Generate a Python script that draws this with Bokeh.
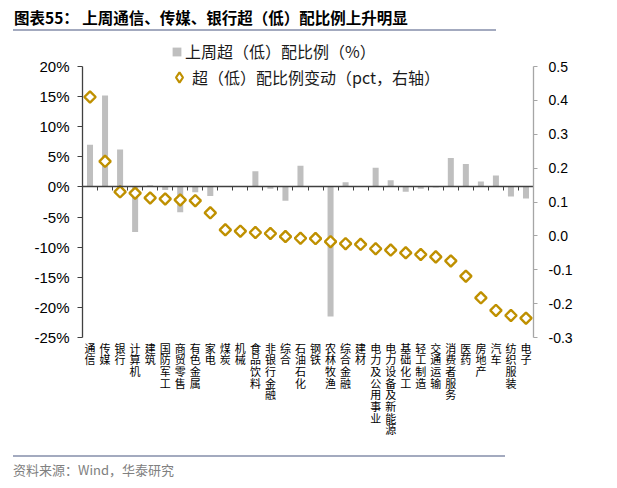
from bokeh.plotting import figure
from bokeh.models import (ColumnDataSource, Range1d, LinearAxis, FixedTicker,
                          PrintfTickFormatter, Legend, LegendItem, Div)
from bokeh.layouts import column
from bokeh.embed import file_html
from bokeh.resources import INLINE

categories = ["通信", "传媒", "银行", "计算机", "建筑", "国防军工", "商贸零售", "有色金属",
              "家电", "煤炭", "机械", "食品饮料", "非银行金融", "综合", "石油石化", "钢铁",
              "农林牧渔", "综合金融", "建材", "电力及公用事业", "电力设备及新能源", "基础化工",
              "轻工制造", "交通运输", "消费者服务", "医药", "房地产", "汽车", "纺织服装", "电子"]
ratio_pct = [7.0, 15.2, 6.2, -7.5, 0.3, -0.5, -4.2, -0.9, -1.5, 0.0, 0.0, 2.6, -0.3, -2.3,
             3.5, 0.0, -21.5, 0.8, 0.0, 3.2, 1.1, -0.8, -0.3, -0.1, 4.8, 3.8, 0.9, 1.9,
             -1.6, -1.9]
change_pct = [0.41, 0.22, 0.13, 0.126, 0.112, 0.109, 0.106, 0.104, 0.068, 0.018, 0.014,
              0.010, 0.007, -0.002, -0.007, -0.008, -0.017, -0.023, -0.025, -0.038, -0.042,
              -0.050, -0.055, -0.062, -0.074, -0.119, -0.183, -0.220, -0.235, -0.243]
left_ticks = [-25, -20, -15, -10, -5, 0, 5, 10, 15, 20]
right_ticks = [-0.3, -0.2, -0.1, 0.0, 0.1, 0.2, 0.3, 0.4, 0.5]

CJK = "Noto Sans CJK SC"
GOLD = "#BF9000"
GRAY = "#BFBFBF"

# layout (pixels): axes span 271 px; the frame is extended 26 px upward to hold the legend
AXIS_PX = 271
EXTRA_TOP_PX = 26
l_lo, l_hi = left_ticks[0], left_ticks[-1]
r_lo, r_hi = right_ticks[0], right_ticks[-1]
l_top = l_hi + (l_hi - l_lo) * EXTRA_TOP_PX / AXIS_PX
r_top = r_hi + (r_hi - r_lo) * EXTRA_TOP_PX / AXIS_PX

n = len(categories)
idx = list(range(n))
src = ColumnDataSource(dict(x=idx, bar=ratio_pct, chg=change_pct))

p = figure(width=617, height=418, output_backend="svg", toolbar_location=None,
           x_range=Range1d(-0.5, n - 0.5), y_range=Range1d(l_lo, l_top),
           min_border_left=82, min_border_right=84, min_border_top=3, min_border_bottom=118)
p.extra_y_ranges = {"right": Range1d(r_lo, r_top)}
p.outline_line_color = None
p.xgrid.visible = False
p.ygrid.visible = False
p.background_fill_color = "white"
p.border_fill_color = "white"

bars = p.vbar(x="x", top="bar", bottom=0, width=0.4, source=src,
              fill_color=GRAY, line_color=None)
pts = p.scatter(x="x", y="chg", source=src, y_range_name="right", marker="square",
                size=8, angle=0.785398, fill_color="white", line_color=GOLD,
                line_width=2.4)
# legend-only proxy (not drawn on the chart) so that the legend shows a diamond
pts_key = p.scatter(x="x", y="chg", source=src, y_range_name="right", marker="diamond",
                    fill_color="white", line_color=GOLD, line_width=2.2, visible=False)

# bottom axis: category labels only (vertical, one character per line)
xa = p.xaxis[0]
xa.ticker = FixedTicker(ticks=idx)
xa.major_label_overrides = {i: "\n".join(c) for i, c in enumerate(categories)}
xa.axis_line_color = None
xa.major_tick_line_color = None
xa.minor_tick_line_color = None
xa.major_label_text_font = CJK
xa.major_label_text_font_size = "11px"
xa.major_label_text_line_height = 0.73
xa.major_label_text_color = "#000000"
xa.major_label_standoff = -4

# zero line with ticks between categories
bounds_ticks = [i + 0.5 for i in idx]
za = LinearAxis(fixed_location=0, ticker=FixedTicker(ticks=bounds_ticks),
                major_label_overrides={t: "" for t in bounds_ticks},
                axis_line_color="#404040", axis_line_width=1.3,
                major_tick_line_color="#404040", major_tick_in=0,
                major_tick_out=4, minor_tick_line_color=None)
p.add_layout(za, "below")

# left axis
ya = p.yaxis[0]
ya.bounds = (l_lo, l_hi)
ya.ticker = FixedTicker(ticks=left_ticks)
ya.formatter = PrintfTickFormatter(format="%d%%")
ya.axis_line_color = "#404040"
ya.axis_line_width = 1.3
ya.major_tick_line_color = "#404040"
ya.major_tick_in = 0
ya.major_tick_out = 5
ya.minor_tick_line_color = None
ya.major_label_text_font = "Liberation Sans"
ya.major_label_text_font_size = "15px"
ya.major_label_text_color = "#000000"
ya.major_label_standoff = 8

# right axis
ra = LinearAxis(y_range_name="right", bounds=(r_lo, r_hi),
                ticker=FixedTicker(ticks=right_ticks),
                formatter=PrintfTickFormatter(format="%.1f"),
                axis_line_color="#A6A6A6", axis_line_width=1.3,
                major_tick_line_color="#A6A6A6", major_tick_in=0, major_tick_out=4,
                minor_tick_line_color=None, major_label_text_font="Liberation Sans",
                major_label_text_font_size="14px", major_label_text_color="#000000",
                major_label_standoff=11)
p.add_layout(ra, "right")

leg1 = Legend(items=[LegendItem(label="上周超（低）配比例（%）", renderers=[bars])],
              location=(89, 274), glyph_width=11, glyph_height=11, label_height=20,
              label_standoff=3, padding=0, margin=0, border_line_color=None,
              background_fill_alpha=0, label_text_font=CJK, label_text_font_size="16px",
              label_text_color="#1a1a1a")
leg2 = Legend(items=[LegendItem(label="超（低）配比例变动（pct，右轴）", renderers=[pts_key])],
              location=(84, 247), glyph_width=26, glyph_height=26, label_height=26,
              label_standoff=0, padding=0, margin=0, border_line_color=None,
              background_fill_alpha=0, label_text_font=CJK, label_text_font_size="16px",
              label_text_color="#1a1a1a")
p.add_layout(leg1)
p.add_layout(leg2)

title = Div(text=("<div style=\"margin-left:13px;width:483px;height:31px;"
                  "border-bottom:2px solid #A3AABF;font-family:'Noto Sans CJK SC';"
                  "font-weight:bold;font-size:15.5px;line-height:34px;color:#000;"
                  "white-space:nowrap;padding-left:1px;\">图表55：&nbsp;上周通信、传媒、银行超（低）配比例上升明显</div>"),
            width=617, height=37, margin=0)
footer = Div(text=("<div style=\"margin-left:13px;width:492px;height:31px;"
                   "border-top:2px solid #A3AABF;font-family:'Noto Sans CJK SC';"
                   "font-size:13px;line-height:26px;color:#808080;white-space:nowrap;"
                   "\">资料来源：Wind，华泰研究</div>"),
             width=617, height=33, margin=0)

layout = column(title, p, footer, spacing=0)
open("out.html", "w").write(file_html(layout, INLINE))
